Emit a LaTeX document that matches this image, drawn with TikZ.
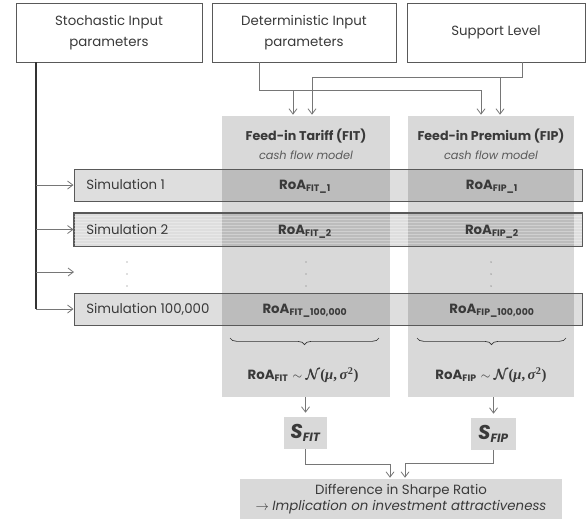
\documentclass[tikz,border=0pt]{standalone}
\usepackage{amsmath,amssymb}
\usepackage{fontspec}
\setmainfont{Poppins}
\newfontfamily\grk{Liberation Serif}
\usetikzlibrary{arrows.meta,decorations.pathreplacing,calc}
\definecolor{txt}{HTML}{3A3A3A}
\definecolor{colgray}{HTML}{D9D9D9}
\definecolor{edge}{HTML}{595959}
\definecolor{connc}{HTML}{767676}
\newcommand{\roa}[1]{\textbf{RoA}\textsubscript{\textbf{#1}}}
\newcommand{\distr}{{\fontsize{9}{10}\selectfont$\sim$}\hspace{3pt}$\pmb{\mathcal{N}}${\grk\bfseries(\textit{μ},\,\textit{σ}\textsuperscript{2})}}
\begin{document}
\begin{tikzpicture}[x=0.75pt,y=-0.75pt,
  font=\fontsize{10}{13}\selectfont, text=txt,
  topbox/.style={draw=edge, line width=0.6pt, fill=white, minimum height=44.25pt, align=center, inner sep=0pt, font=\fontsize{10}{16}\selectfont},
  column/.style={fill=colgray, draw=none, minimum height=210.75pt, inner sep=0pt},
  simbar/.style={draw=edge, line width=0.75pt, fill=black, fill opacity=0.13, minimum width=381pt, inner sep=0pt},
  lbl/.style={inner sep=0pt},
  arr/.style={draw=connc, line width=0.6pt, -{Straight Barb[length=4pt,width=6pt]}},
  ln/.style={draw=connc, line width=0.6pt},
  mainln/.style={draw=black!80, line width=0.9pt},
  gbox/.style={fill=colgray, draw=none, inner sep=0pt},
  brc/.style={draw=black!80, line width=0.5pt, decorate, decoration={brace, amplitude=5pt}}
]
\useasboundingbox (0,0) rectangle (588,522);

% columns
\node[column, minimum width=126pt] (fit) at (306,256.5) {};
\node[column, minimum width=124.5pt] (fip) at (491,256.5) {};

% top boxes
\node[topbox, minimum width=139.5pt] (stoch) at (109,32.5) {Stochastic Input\\parameters};
\node[topbox, minimum width=138pt] (det) at (304,32.5) {Deterministic Input\\parameters};
\node[topbox, minimum width=133.5pt] (sup) at (496,32.5) {Support Level};

% connectors from top
\coordinate (dA) at (259,90);
\coordinate (dB) at (481,90);
\coordinate (dC) at (293,90);
\coordinate (sA) at (522,77);
\coordinate (sB) at (312,77);
\coordinate (sC) at (500,77);
\draw[ln] (det.south -| dA) -- (dA) -- (dB);
\draw[arr] (dB) -- ([yshift=0.75pt]dB |- fip.north);
\draw[arr] (dC) -- ([yshift=0.75pt]dC |- fit.north);
\draw[ln] (sup.south -| sA) -- (sA) -- (sB);
\draw[arr] (sB) -- ([yshift=0.75pt]sB |- fit.north);
\draw[arr] (sC) -- ([yshift=0.75pt]sC |- fip.north);

% column headers
\node[lbl, font=\bfseries\fontsize{9.5}{11}\selectfont] (fith) at (306,136) {Feed-in Tariff (FIT)};
\node[lbl, font=\itshape\fontsize{8.5}{10}\selectfont, text=black!65] (fitc) at (306,155) {cash flow model};
\node[lbl, font=\bfseries\fontsize{9.5}{11}\selectfont] (fiph) at (491,136) {Feed-in Premium (FIP)};
\node[lbl, font=\itshape\fontsize{8.5}{10}\selectfont, text=black!65] (fipc) at (491,155) {cash flow model};

% simulation bars
\node[simbar, minimum height=24pt] (sim1) at (328,185) {};
\node[simbar, minimum height=24.75pt] (sim2) at (328,229.5) {};
\node[simbar, minimum height=24pt] (simn) at (328,309) {};
\begin{scope}
  \clip (sim2.south west) rectangle (sim2.north east);
  \foreach \yy in {216,219,...,246} {
    \draw[white, opacity=0.3, line width=0.4pt] (74,\yy) -- (582,\yy);
  }
\end{scope}
\draw[edge, line width=0.75pt] (sim2.south west) rectangle (sim2.north east);

% stochastic main line and arrows
\coordinate (m0) at (36,0);
\coordinate (dotsarrow) at (74,272);
\draw[mainln] (stoch.south -| m0) -- (simn.west -| m0);
\draw[arr] (sim1.west -| m0) -- (sim1.west);
\draw[arr] (sim2.west -| m0) -- (sim2.west);
\draw[arr] (dotsarrow -| m0) -- (dotsarrow);
\draw[arr] (simn.west -| m0) -- (simn.west);

% simulation labels
\node[lbl, anchor=west] (s1t) at (86,184) {Simulation 1};
\node[lbl, anchor=west] (s2t) at (86,229) {Simulation 2};
\node[lbl, anchor=west] (snt) at (86,309) {Simulation 100,000};

\node[lbl] (r1a) at (305,187) {\roa{FIT\_1}};
\node[lbl] (r1b) at (492,187) {\roa{FIP\_1}};
\node[lbl] (r2a) at (305,232) {\roa{FIT\_2}};
\node[lbl] (r2b) at (492,232) {\roa{FIP\_2}};
\node[lbl] (rna) at (305,311) {\roa{FIT\_100,000}};
\node[lbl] (rnb) at (492,311) {\roa{FIP\_100,000}};

% vertical dots
\foreach \xx in {127,306,491} {
  \foreach \yy in {262,274,286} {
    \fill[black!55] (\xx,\yy) circle (0.55pt);
  }
}

% braces
\draw[brc] (379,338) -- (230,338);
\draw[brc] (566,338) -- (417,338);

\node[lbl] (nfit) at (303,375) {\roa{FIT}\hspace{3pt}{\fontsize{11}{12}\selectfont\distr}};
\node[lbl] (nfip) at (491,375) {\roa{FIP}\hspace{3pt}{\fontsize{11}{12}\selectfont\distr}};

% Sharpe ratio boxes
\node[gbox, minimum width=32.25pt, minimum height=24pt, font=\bfseries\itshape\fontsize{15}{16}\selectfont] (sfit) at (305.5,433) {S\textsubscript{\fontsize{9}{10}\selectfont FIT}};
\node[gbox, minimum width=33.75pt, minimum height=24pt, font=\bfseries\itshape\fontsize{15}{16}\selectfont] (sfip) at (493.5,434) {S\textsubscript{\fontsize{9}{10}\selectfont FIP}};

\node[gbox, minimum width=241.5pt, minimum height=30pt, align=center, font=\fontsize{10}{11.5}\selectfont] (diff) at (401,499) {Difference in Sharpe Ratio\\$\rightarrow$ \textit{Implication on investment attractiveness}};

\coordinate (j1) at (390,464);
\coordinate (j2) at (405,463);
\draw[arr] (sfit.north |- fit.south) -- ([yshift=3pt]sfit.north);
\draw[arr] (sfip.north |- fip.south) -- ([yshift=3pt]sfip.north);
\draw[ln] (sfit.south) |- (j1);
\draw[arr] (j1) -- ([yshift=0.75pt]j1 |- diff.north);
\draw[ln] (sfip.south) |- (j2);
\draw[arr] (j2) -- ([yshift=0.75pt]j2 |- diff.north);
\end{tikzpicture}
\end{document}
